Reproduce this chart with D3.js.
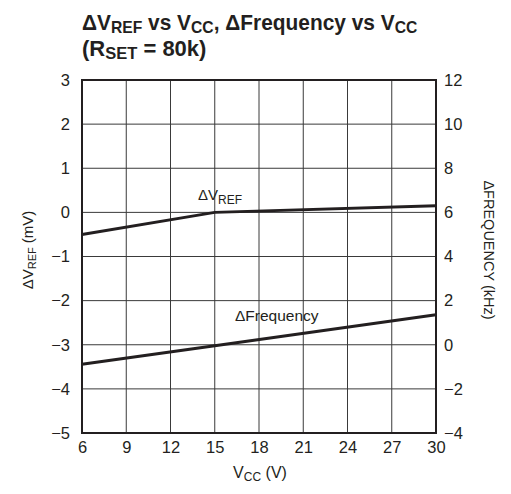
<!DOCTYPE html>
<html><head><meta charset="utf-8">
<script src="https://cdn.jsdelivr.net/npm/d3@7"></script>
<style>body{margin:0;background:#fff}svg{display:block}text{font-family:"Liberation Sans Narrow","Arial Narrow","Liberation Sans",sans-serif;fill:#231f20}</style>
</head><body><svg id="c" width="511" height="494"></svg>
<script>
const xTicks = [6, 9, 12, 15, 18, 21, 24, 27, 30];
const yLeftTicks = [-5, -4, -3, -2, -1, 0, 1, 2, 3];
const yRightTicks = [-4, -2, 0, 2, 4, 6, 8, 10, 12];
const vccVref = [6, 15, 30];
const dVref = [-0.5, 0.0, 0.15];
const vccFreq = [6, 15, 30];
const dFreq = [-0.88, -0.05, 1.36];

const svg = d3.select("#c");
const L = 82, R = 436, T = 80, B = 433;
const x = d3.scaleLinear().domain([6, 30]).range([L, R]);
const yL = d3.scaleLinear().domain([-5, 3]).range([B, T]);
const yR = d3.scaleLinear().domain([-4, 12]).range([B, T]);

// grid
const g = svg.append("g");
g.selectAll("line.v").data(xTicks.slice(1, -1)).join("line")
  .attr("x1", d => x(d)).attr("x2", d => x(d)).attr("y1", T).attr("y2", B)
  .attr("stroke", "#3a3a3a").attr("stroke-width", 1);
g.selectAll("line.h").data(yLeftTicks.slice(1, -1)).join("line")
  .attr("y1", d => yL(d)).attr("y2", d => yL(d)).attr("x1", L).attr("x2", R)
  .attr("stroke", "#3a3a3a").attr("stroke-width", 1);
svg.append("rect").attr("x", L).attr("y", T).attr("width", R - L).attr("height", B - T)
  .attr("fill", "none").attr("stroke", "#231f20").attr("stroke-width", 2);

// axes (labels only)
const fs = 16.5;
const fmt = d => d < 0 ? "\u2212" + Math.abs(d) : d;
const axB = svg.append("g").attr("transform", `translate(0,${B})`)
  .call(d3.axisBottom(x).tickValues(xTicks).tickSize(0).tickPadding(8));
const axL = svg.append("g").attr("transform", `translate(${L},0)`)
  .call(d3.axisLeft(yL).tickValues(yLeftTicks).tickSize(0).tickPadding(12).tickFormat(fmt));
const axR = svg.append("g").attr("transform", `translate(${R},0)`)
  .call(d3.axisRight(yR).tickValues(yRightTicks).tickSize(0).tickPadding(8).tickFormat(fmt));
[axB, axL, axR].forEach(a => {
  a.select(".domain").remove();
  a.selectAll("text").attr("font-size", fs).attr("fill", "#231f20");
  a.attr("font-family", null).attr("font-size", null);
});

// lines
const lineL = d3.line().x(d => x(d[0])).y(d => yL(d[1]));
const lineR = d3.line().x(d => x(d[0])).y(d => yR(d[1]));
svg.append("path").attr("d", lineL(vccVref.map((v, i) => [v, dVref[i]])))
  .attr("fill", "none").attr("stroke", "#231f20").attr("stroke-width", 3);
svg.append("path").attr("d", lineR(vccFreq.map((v, i) => [v, dFreq[i]])))
  .attr("fill", "none").attr("stroke", "#231f20").attr("stroke-width", 3);

// inline labels
const lv = svg.append("text").attr("x", 198).attr("y", 200).attr("font-size", 15);
lv.append("tspan").text("\u0394V");
lv.append("tspan").attr("dy", 4).attr("font-size", 12).text("REF");
svg.append("text").attr("x", 235).attr("y", 321).attr("font-size", 15.5).text("\u0394Frequency");

// title
const tg = svg.append("g").attr("transform", "translate(82,0) scale(0.95,1)");
const t1 = tg.append("text").attr("x", 0).attr("y", 30).attr("font-size", 22).attr("font-weight", "bold");
t1.append("tspan").text("\u0394V");
t1.append("tspan").attr("dy", 3).attr("font-size", 16.5).text("REF");
t1.append("tspan").attr("dy", -3).text(" vs V");
t1.append("tspan").attr("dy", 3).attr("font-size", 16.5).text("CC");
t1.append("tspan").attr("dy", -3).text(", \u0394Frequency vs V");
t1.append("tspan").attr("dy", 3).attr("font-size", 16.5).text("CC");
const t2 = svg.append("text").attr("x", 82).attr("y", 56).attr("font-size", 22).attr("font-weight", "bold");
t2.append("tspan").text("(R");
t2.append("tspan").attr("dy", 3).attr("font-size", 16.5).text("SET");
t2.append("tspan").attr("dy", -3).text(" = 80k)");

// x axis title
const xt = svg.append("text").attr("x", 260).attr("y", 478).attr("text-anchor", "middle").attr("font-size", 16);
xt.append("tspan").text("V");
xt.append("tspan").attr("dy", 3).attr("font-size", 12).text("CC");
xt.append("tspan").attr("dy", -3).text(" (V)");

// left y title
const yt = svg.append("text").attr("transform", "translate(33,250) rotate(-90)").attr("text-anchor", "middle").attr("font-size", 15);
yt.append("tspan").text("\u0394V");
yt.append("tspan").attr("dy", 3).attr("font-size", 11).text("REF");
yt.append("tspan").attr("dy", -3).text("  (mV)");

// right y title
svg.append("text").attr("transform", "translate(484,250) rotate(90)").attr("text-anchor", "middle").attr("font-size", 14.5)
  .text("\u0394FREQUENCY  (kHz)");
</script></body></html>
